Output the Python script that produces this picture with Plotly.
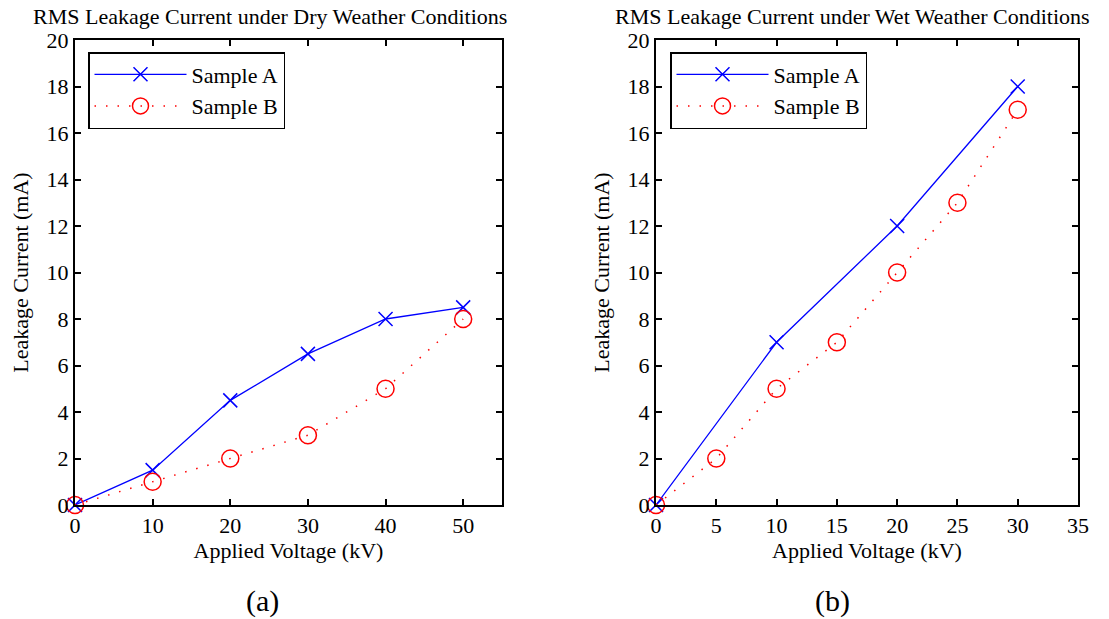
import plotly.graph_objects as go

# Dry weather measurements
dry_voltage_a = [0, 10, 20, 30, 40, 50]
dry_current_a = [0, 1.5, 4.5, 6.5, 8, 8.5]
dry_voltage_b = [0, 10, 20, 30, 40, 50]
dry_current_b = [0, 1, 2, 3, 5, 8]

# Wet weather measurements
wet_voltage_a = [0, 10, 20, 30]
wet_current_a = [0, 7, 12, 18]
wet_voltage_b = [0, 5, 10, 15, 20, 25, 30]
wet_current_b = [0, 2, 5, 7, 10, 13, 17]

W, H = 1109, 619
FONT = "Liberation Serif, Times New Roman, serif"
FS = 22
BLUE = "#0000ff"
RED = "#ff0000"


def px_x(x):
    return x / W


def px_y(y):
    return (H - y) / H


fig = go.Figure()


def add_pair(xa, ya, xb, yb, xref, yref, legend):
    fig.add_trace(go.Scatter(
        x=xa, y=ya, name="Sample A", mode="lines+markers",
        line=dict(color=BLUE, width=1.3),
        marker=dict(symbol="x-thin-open", size=14, line=dict(color=BLUE, width=1.5)),
        xaxis=xref, yaxis=yref, legend=legend, cliponaxis=False,
    ))
    fig.add_trace(go.Scatter(
        x=xb, y=yb, name="Sample B", mode="lines+markers",
        line=dict(color=RED, width=1.5, dash="1.5px,10px"),
        marker=dict(symbol="circle-open", size=17, line=dict(color=RED, width=1.5)),
        xaxis=xref, yaxis=yref, legend=legend, cliponaxis=False,
    ))


add_pair(dry_voltage_a, dry_current_a, dry_voltage_b, dry_current_b, "x", "y", "legend")
add_pair(wet_voltage_a, wet_current_a, wet_voltage_b, wet_current_b, "x2", "y2", "legend2")

axis_common = dict(
    showline=True, linecolor="black", linewidth=2, mirror="ticks",
    ticks="inside", ticklen=6, tickwidth=1.5, tickcolor="black",
    showgrid=False, zeroline=False, automargin=False,
    tickfont=dict(family=FONT, size=FS, color="black"),
)
ydom = [px_y(505), px_y(40)]
xtitle = dict(text="Applied Voltage (kV)", font=dict(family=FONT, size=FS), standoff=4)
ytitle = dict(text="Leakage Current (mA)", font=dict(family=FONT, size=FS), standoff=12)
legend_common = dict(
    xanchor="left", yanchor="top", bordercolor="black", borderwidth=1.5,
    bgcolor="white", font=dict(family=FONT, size=FS), itemwidth=92, tracegroupgap=0,
)

fig.update_layout(
    width=W, height=H,
    margin=dict(l=0, r=0, t=0, b=0),
    paper_bgcolor="white", plot_bgcolor="white",
    font=dict(family=FONT, size=FS, color="black"),
    xaxis=dict(domain=[px_x(75), px_x(502)], range=[0, 55], dtick=10, anchor="y",
               title=xtitle, **axis_common),
    yaxis=dict(domain=ydom, range=[0, 20], dtick=2, anchor="x",
               title=ytitle, **axis_common),
    xaxis2=dict(domain=[px_x(656), px_x(1078)], range=[0, 35], dtick=5, anchor="y2",
                title=xtitle, **axis_common),
    yaxis2=dict(domain=ydom, range=[0, 20], dtick=2, anchor="x2",
                title=ytitle, **axis_common),
    legend=dict(x=px_x(88), y=px_y(52), **legend_common),
    legend2=dict(x=px_x(670), y=px_y(52), **legend_common),
    showlegend=True,
)

annotations = [
    dict(text="RMS Leakage Current under Dry Weather Conditions", x=px_x(270), y=px_y(17)),
    dict(text="RMS Leakage Current under Wet Weather Conditions", x=px_x(852), y=px_y(17)),
    dict(text="(a)", x=px_x(262), y=px_y(601), size=30),
    dict(text="(b)", x=px_x(832), y=px_y(601), size=30),
]
for a in annotations:
    fig.add_annotation(
        text=a["text"], x=a["x"], y=a["y"], xref="paper", yref="paper",
        xanchor="center", yanchor="middle", showarrow=False,
        font=dict(family=FONT, size=a.get("size", FS), color="black"),
    )

fig.write_html("out.html")
